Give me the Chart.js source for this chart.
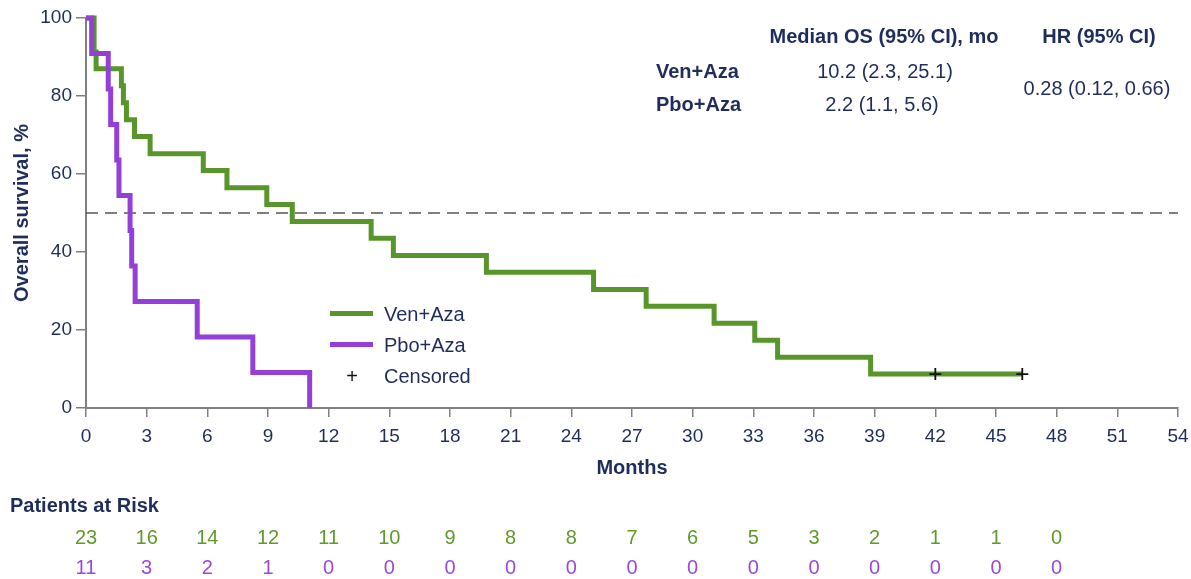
<!DOCTYPE html>
<html>
<head>
<meta charset="utf-8">
<script src="https://cdn.jsdelivr.net/npm/chart.js@4.4.1/dist/chart.umd.min.js"></script>
<style>
body { margin: 0; background: #fff; }
#wrap { position: relative; width: 1191px; height: 579px; font-family: "Liberation Sans", Arial, sans-serif; color: #1f2d5c; }
.t { position: absolute; white-space: nowrap; transform: translate(-50%, -50%); font-size: 20px; line-height: 1; }
.l { transform: translate(0, -50%); }
.b { font-weight: bold; }
.sw { position: absolute; width: 43px; height: 5px; }
</style>
</head>
<body>
<div id="wrap">
<canvas id="km" width="1191" height="579"></canvas>

<div class="t b" style="left:884px; top:36px;">Median OS (95% CI), mo</div>
<div class="t b" style="left:1099px; top:36px;">HR (95% CI)</div>
<div class="t l b" style="left:656px; top:71px;">Ven+Aza</div>
<div class="t l b" style="left:656px; top:104px;">Pbo+Aza</div>
<div class="t" style="left:885px; top:71px;">10.2 (2.3, 25.1)</div>
<div class="t" style="left:882px; top:104px;">2.2 (1.1, 5.6)</div>
<div class="t" style="left:1097px; top:88px;">0.28 (0.12, 0.66)</div>

<div class="sw" style="left:330px; top:311px; background:#58962b;"></div>
<div class="sw" style="left:330px; top:342px; background:#9440d8;"></div>
<div class="t" style="left:352px; top:376px; color:#111;">+</div>
<div class="t l" style="left:384px; top:314px;">Ven+Aza</div>
<div class="t l" style="left:384px; top:345px;">Pbo+Aza</div>
<div class="t l" style="left:384px; top:376px;">Censored</div>

<div class="t l b" style="left:10px; top:505px;">Patients at Risk</div>
</div>

<script>
/* KAPLAN-MEIER DATA (months, overall survival %) */

const venMonths = [0, 0.4, 0.5, 1.75, 1.85, 2.0, 2.4, 3.17, 5.8, 6.97, 8.94, 10.2, 14.1, 15.2, 19.8, 25.1, 27.7, 31.06, 33.07, 34.2, 38.8, 46.3];
const venSurv = [100, 91.3, 87.0, 82.6, 78.3, 73.9, 69.6, 65.2, 60.9, 56.5, 52.2, 47.8, 43.5, 39.1, 34.8, 30.4, 26.1, 21.7, 17.4, 13.0, 8.7, 8.7];

const pboMonths = [0, 0.28, 1.1, 1.22, 1.52, 1.63, 2.18, 2.26, 2.43, 5.5, 8.25, 11.06];
const pboSurv = [100, 90.9, 81.8, 72.7, 63.6, 54.5, 45.5, 36.4, 27.3, 18.2, 9.1, 0];

const censorMonths = [42.0, 46.3];
const censorSurv = [8.7, 8.7];

const medianLevel = 50;

/* PATIENTS AT RISK */

const riskMonths = [0, 3, 6, 9, 12, 15, 18, 21, 24, 27, 30, 33, 36, 39, 42, 45, 48];
const venAtRisk = [23, 16, 14, 12, 11, 10, 9, 8, 8, 7, 6, 5, 3, 2, 1, 1, 0];
const pboAtRisk = [11, 3, 2, 1, 0, 0, 0, 0, 0, 0, 0, 0, 0, 0, 0, 0, 0];

const GREEN = "#58962b";
const PURPLE = "#9440d8";
const NAVY = "#1f2d5c";
const AXIS = "#808080";

function toPoints(xs, ys) {
return xs.map((x, i) => ({ x: x, y: ys[i] }));
}

const ctx = document.getElementById("km");

const chart = new Chart(ctx, {

type: "line",

data: {
datasets: [
{
label: "Censored",
data: toPoints(censorMonths, censorSurv),
showLine: false,
pointStyle: "cross",
pointRadius: 6,
pointBorderWidth: 1.8,
pointBorderColor: "#111",
clip: false
},
{
label: "Pbo+Aza",
data: toPoints(pboMonths, pboSurv),
stepped: true,
borderColor: PURPLE,
borderWidth: 5,
borderJoinStyle: "miter",
pointRadius: 0,
clip: false
},
{
label: "Ven+Aza",
data: toPoints(venMonths, venSurv),
stepped: true,
borderColor: GREEN,
borderWidth: 5,
borderJoinStyle: "miter",
pointRadius: 0,
clip: false
},
{
label: "Median",
data: [{ x: 0, y: medianLevel }, { x: 54, y: medianLevel }],
borderColor: "#555",
borderWidth: 1.5,
borderDash: [12, 7],
pointRadius: 0
}
]
},

options: {

responsive: false,
animation: false,

layout: {
padding: { left: 0, right: 13, top: 18, bottom: 99 }
},

plugins: {
legend: { display: false },
tooltip: { enabled: false }
},

scales: {

x: {
type: "linear",
min: 0,
max: 54,
ticks: {
stepSize: 3,
color: NAVY,
padding: 8,
font: { family: "Liberation Sans", size: 19 }
},
grid: {
drawOnChartArea: false,
color: AXIS,
lineWidth: 1.5,
tickLength: 9
},
border: { color: AXIS, width: 2 },
title: {
display: true,
text: "Months",
color: NAVY,
padding: { top: 0, bottom: 0 },
font: { family: "Liberation Sans", size: 20, weight: "bold" }
},
afterFit: s => {
s.height = 72;
s.paddingLeft = 0;
s.paddingRight = 0;
}
},

y: {
min: 0,
max: 100,
ticks: {
stepSize: 20,
color: NAVY,
padding: 4,
font: { family: "Liberation Sans", size: 19 }
},
grid: {
drawOnChartArea: false,
color: AXIS,
lineWidth: 1.5,
tickLength: 10
},
border: { color: AXIS, width: 2 },
title: {
display: true,
text: "Overall survival, %",
color: NAVY,
padding: { top: 10, bottom: 0 },
font: { family: "Liberation Sans", size: 20, weight: "bold" }
},
afterFit: s => { s.width = 86; }
}

}

}

});

/* AT-RISK ROWS, placed on the x scale */

const wrap = document.getElementById("wrap");

function addRiskRow(values, top, color) {
values.forEach((v, i) => {
const d = document.createElement("div");
d.className = "t";
d.style.left = chart.scales.x.getPixelForValue(riskMonths[i]) + "px";
d.style.top = top + "px";
d.style.color = color;
d.textContent = v;
wrap.appendChild(d);
});
}

addRiskRow(venAtRisk, 537, "#5f9a2a");
addRiskRow(pboAtRisk, 567, "#9b48dd");
</script>
</body>
</html>
